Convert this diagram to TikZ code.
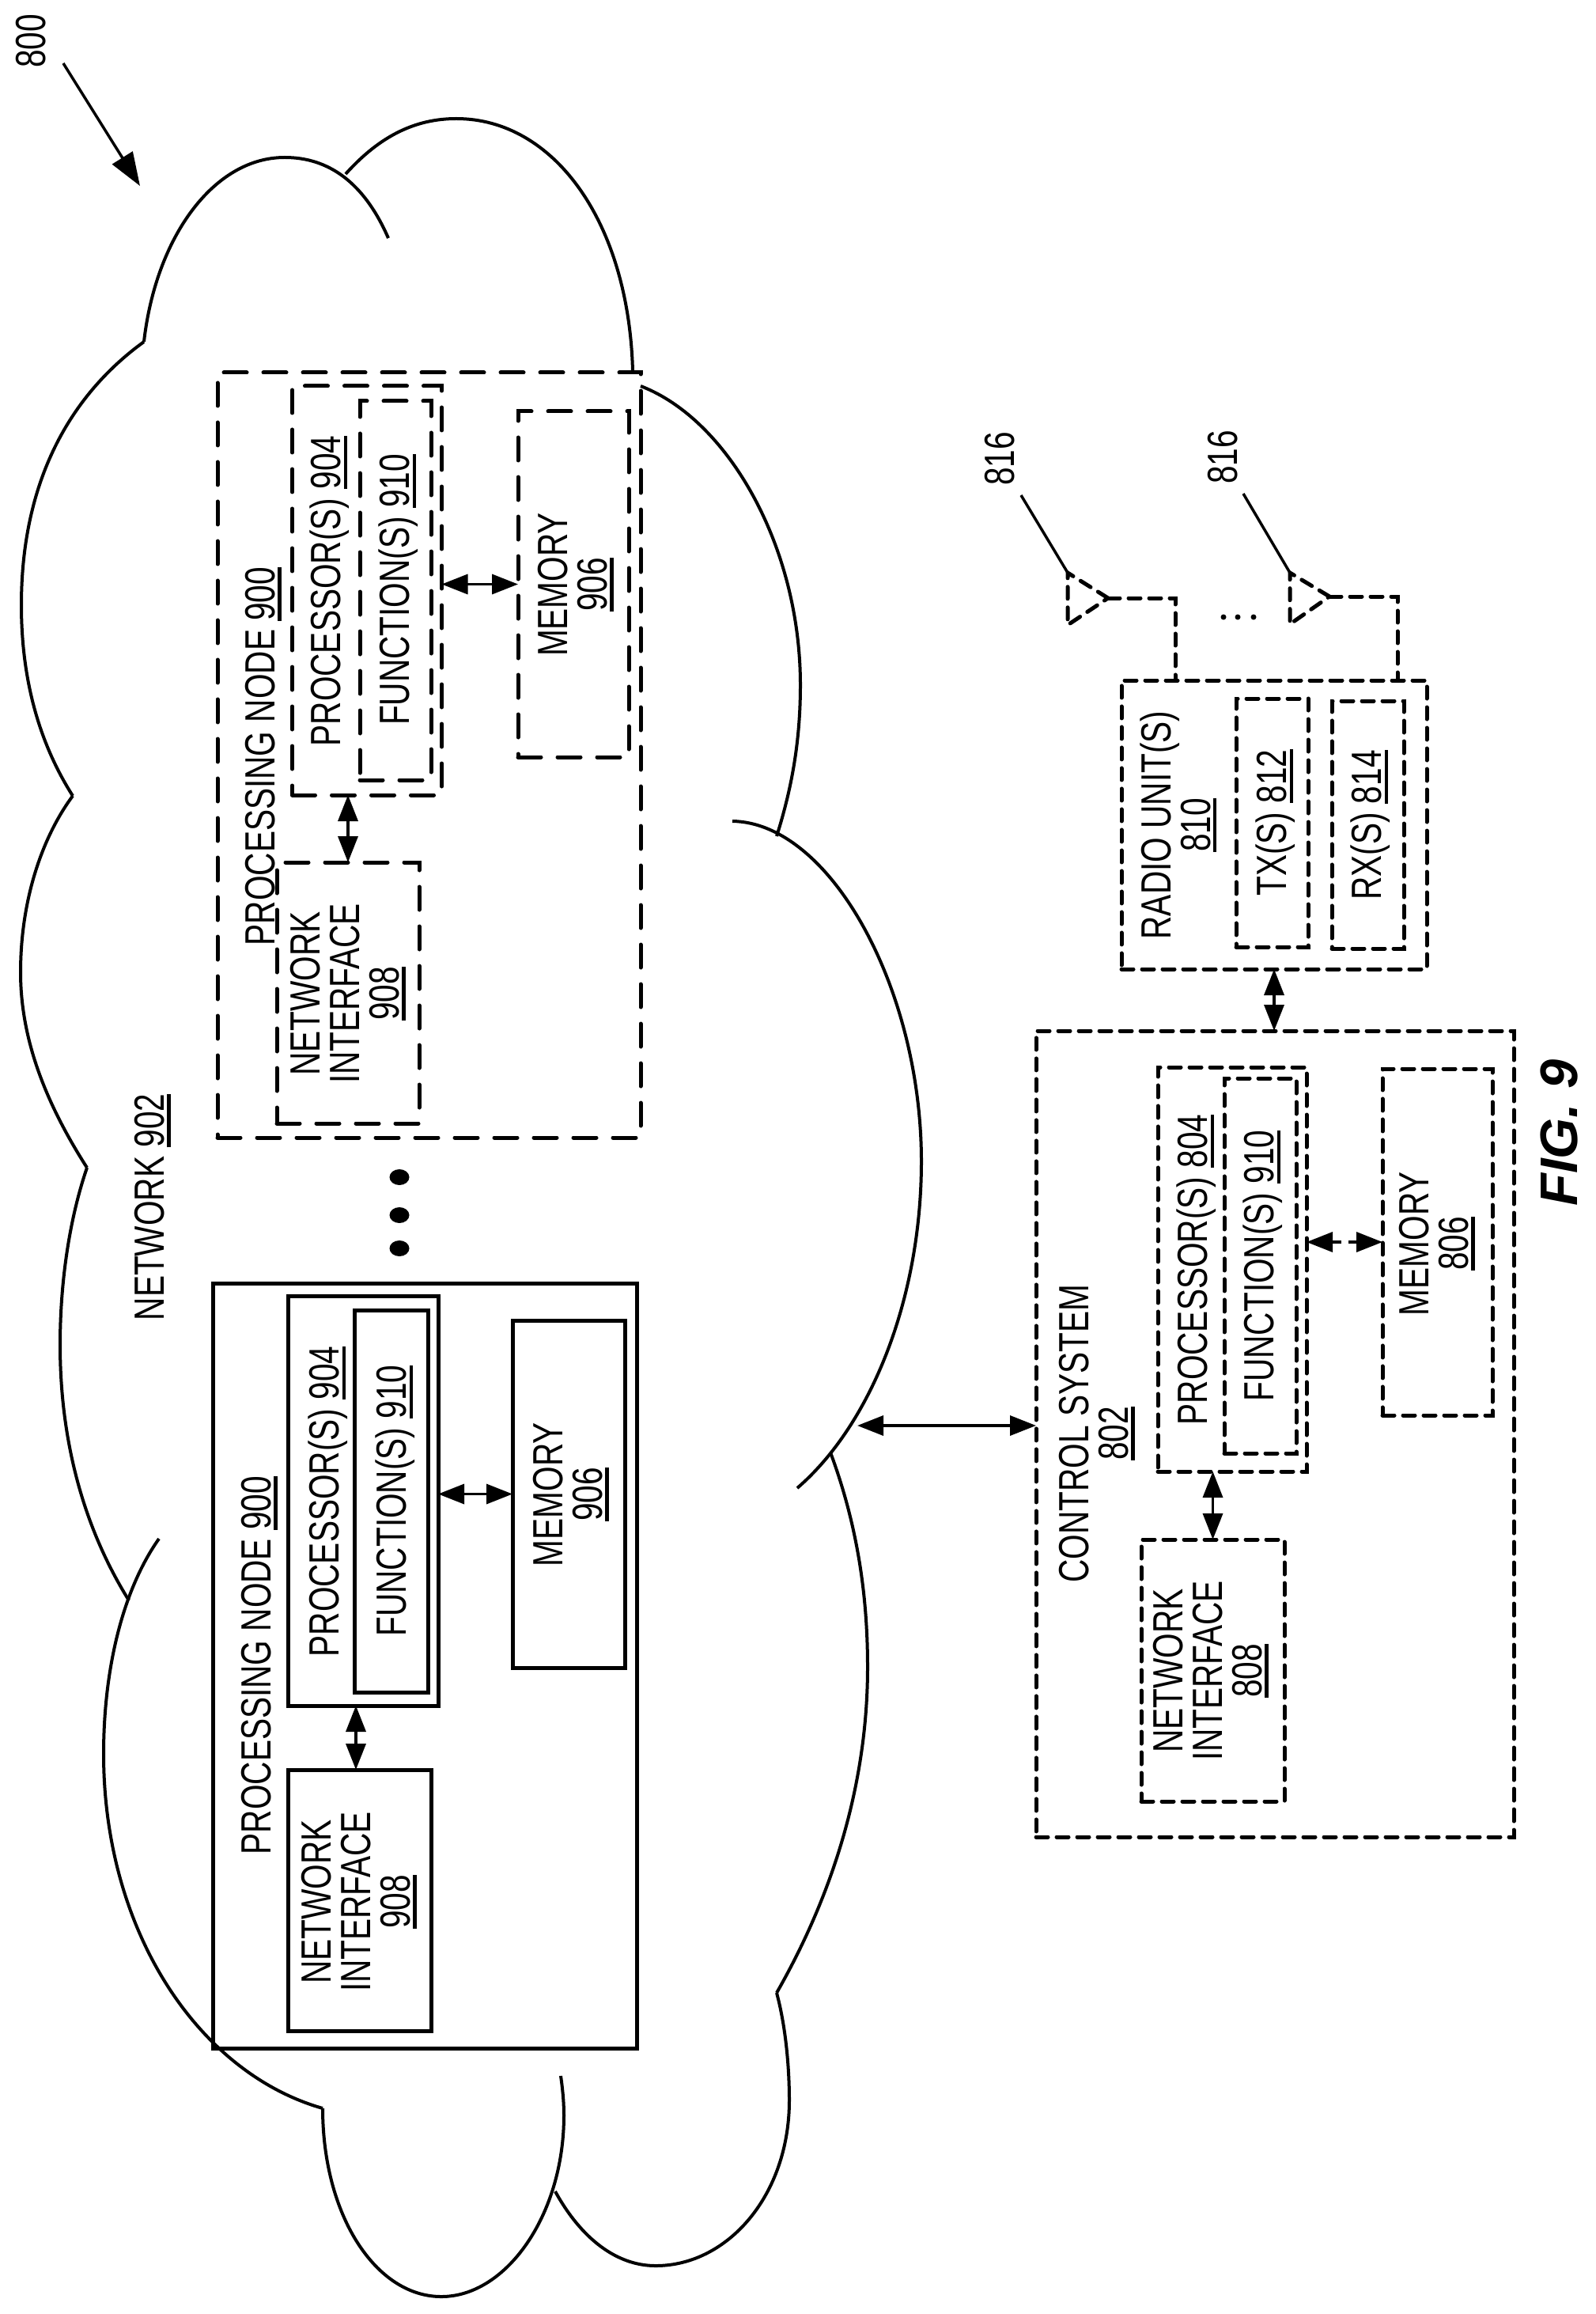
\documentclass[tikz,border=0pt]{standalone}
\usepackage{fontspec}
\setmainfont{Liberation Sans}[FakeStretch=0.76]
\newfontfamily\figfont{Liberation Sans}
\newcommand{\unum}[1]{\leavevmode\vtop{\hbox{#1}\kern.9pt\hrule height 1.2pt}}
\usepackage{tikz}
\usetikzlibrary{arrows.meta, shapes.geometric, positioning}

\begin{document}
\begin{tikzpicture}[y=-1cm,
	cloudline/.style={line width=.04cm},
	solidbox/.style={draw, line width=.05cm, inner sep=0pt, outer sep=0pt},
	longbox/.style={solidbox, line cap=round, dash pattern=on .29cm off .21cm},
	shortbox/.style={solidbox, line cap=round, dash pattern=on .15cm off .11cm},
	lbl/.style={rotate=90, align=center, inner sep=0pt, font=\fontsize{15.2}{14.2}\selectfont},
	dbl/.style={line width=.035cm, {Triangle[length=.33cm,width=.25cm]}-{Triangle[length=.33cm,width=.25cm]}},
	bigdot/.style={ellipse, fill, inner sep=0pt, minimum width=.25cm, minimum height=.20cm},
	tinydot/.style={circle, fill, inner sep=0pt, minimum size=.07cm}]
	\useasboundingbox (0,0) rectangle (20.17,29.25);

	\draw[cloudline] (4.91,3.01) .. controls (4.6,2.3) and (4.15,1.99) .. (3.60,1.99) .. controls (2.7,1.99) and (1.97,3.0) .. (1.82,4.32);
	\draw[cloudline] (4.37,2.20) .. controls (4.8,1.72) and (5.25,1.50) .. (5.77,1.50) .. controls (7.0,1.50) and (7.95,2.8) .. (8.00,4.69);
	\draw[cloudline] (8.10,4.88) .. controls (9.2,5.3) and (10.12,6.9) .. (10.12,8.66) .. controls (10.12,9.4) and (10.0,10.0) .. (9.82,10.57);
	\draw[cloudline] (9.26,10.38) .. controls (10.5,10.4) and (11.65,12.5) .. (11.65,14.68) .. controls (11.65,16.4) and (11.02,18.0) .. (10.08,18.81);
	\draw[cloudline] (10.50,18.36) .. controls (10.85,19.3) and (10.97,20.2) .. (10.97,21.07) .. controls (10.97,22.6) and (10.5,24.0) .. (9.82,25.19);
	\draw[cloudline] (9.82,25.19) .. controls (9.93,25.6) and (9.98,26.1) .. (9.98,26.55) .. controls (9.98,27.75) and (9.2,28.64) .. (8.29,28.64) .. controls (7.8,28.64) and (7.35,28.3) .. (7.02,27.70);
	\draw[cloudline] (7.09,26.24) .. controls (7.12,26.45) and (7.13,26.6) .. (7.13,26.74) .. controls (7.13,28.0) and (6.4,29.03) .. (5.58,29.03) .. controls (4.75,29.03) and (4.08,28.0) .. (4.08,26.65);
	\draw[cloudline] (4.08,26.65) .. controls (2.5,26.2) and (1.31,24.4) .. (1.31,22.17) .. controls (1.31,21.1) and (1.55,20.1) .. (2.01,19.45);
	\draw[cloudline] (1.63,20.23) .. controls (1.05,19.3) and (.76,18.2) .. (.76,17.00) .. controls (.76,16.2) and (.88,15.4) .. (1.10,14.76);
	\draw[cloudline] (1.10,14.76) .. controls (.55,13.9) and (.26,13.1) .. (.26,12.29) .. controls (.26,11.4) and (.52,10.6) .. (.92,10.06);
	\draw[cloudline] (.92,10.06) .. controls (.5,9.4) and (.27,8.6) .. (.27,7.65) .. controls (.27,6.0) and (.95,4.95) .. (1.82,4.32);

	\node[lbl] (net) at (1.93,15.26) {NETWORK \unum{902}};
	\node[lbl] (t800) at (.39,.52) {800};
	\coordinate (a800) at (.80,.80);
	\coordinate (b800) at (1.77,2.35);
	\draw[line width=.035cm, -{Triangle[length=.42cm,width=.30cm]}] (a800) -- (b800);

	\node[longbox, minimum width=5.35cm, minimum height=9.67cm] (pn2) at (5.425,9.545) {};
	\node[longbox, minimum width=1.89cm, minimum height=5.17cm] (proc2) at (4.64,7.465) {};
	\node[longbox, minimum width=.90cm, minimum height=4.79cm] (func2) at (5.00,7.465) {};
	\node[longbox, minimum width=1.40cm, minimum height=4.37cm] (mem2) at (7.25,7.385) {};
	\node[longbox, minimum width=1.80cm, minimum height=3.30cm] (ni2) at (4.40,12.55) {};
	\node[lbl] (pn2t) at (3.33,9.56) {PROCESSING NODE \unum{900}};
	\node[lbl] (proc2t) at (4.17,7.47) {PROCESSOR(S) \unum{904}};
	\node[lbl] (func2t) at (5.04,7.455) {FUNCTION(S) \unum{910}};
	\node[lbl] (mem2t) at (7.28,7.39) {MEMORY\\\unum{906}};
	\node[lbl] (ni2t) at (4.40,12.56) {NETWORK\\INTERFACE\\\unum{908}};

	\foreach \i/\y in {1/14.88, 2/15.36, 3/15.78}
		\node[bigdot] (dot\i) at (5.05,\y) {};

	\node[solidbox, minimum width=5.36cm, minimum height=9.67cm] (pn1) at (5.37,21.055) {};
	\node[solidbox, minimum width=1.90cm, minimum height=5.18cm] (proc1) at (4.59,18.97) {};
	\node[solidbox, minimum width=.93cm, minimum height=4.83cm] (func1) at (4.945,18.975) {};
	\node[solidbox, minimum width=1.42cm, minimum height=4.39cm] (mem1) at (7.19,18.885) {};
	\node[solidbox, minimum width=1.81cm, minimum height=3.30cm] (ni1) at (4.545,24.02) {};
	\node[lbl] (pn1t) at (3.28,21.05) {PROCESSING NODE \unum{900}};
	\node[lbl] (proc1t) at (4.15,18.98) {PROCESSOR(S) \unum{904}};
	\node[lbl] (func1t) at (5.00,18.97) {FUNCTION(S) \unum{910}};
	\node[lbl] (mem1t) at (7.22,18.89) {MEMORY\\\unum{906}};
	\node[lbl] (ni1t) at (4.54,24.04) {NETWORK\\INTERFACE\\\unum{908}};

	\node[shortbox, minimum width=3.86cm, minimum height=3.65cm] (radio) at (16.11,10.425) {};
	\node[shortbox, minimum width=.91cm, minimum height=3.14cm] (tx) at (16.085,10.40) {};
	\node[shortbox, minimum width=.91cm, minimum height=3.13cm] (rx) at (17.295,10.425) {};
	\node[lbl] (radiot) at (14.90,10.43) {RADIO UNIT(S)\\\unum{810}};
	\node[lbl] (txt) at (16.13,10.40) {TX(S) \unum{812}};
	\node[lbl] (rxt) at (17.33,10.43) {RX(S) \unum{814}};

	\node[shortbox, minimum width=6.04cm, minimum height=10.19cm] (cs) at (16.12,18.125) {};
	\node[shortbox, minimum width=1.88cm, minimum height=5.11cm] (proc3) at (15.58,16.045) {};
	\node[shortbox, minimum width=.91cm, minimum height=4.74cm] (func3) at (15.935,16.00) {};
	\node[shortbox, minimum width=1.39cm, minimum height=4.38cm] (mem3) at (18.175,15.70) {};
	\node[shortbox, minimum width=1.81cm, minimum height=3.31cm] (ni3) at (15.335,21.115) {};
	\node[lbl] (cst) at (13.87,18.12) {CONTROL SYSTEM\\\unum{802}};
	\node[lbl] (proc3t) at (15.13,16.05) {PROCESSOR(S) \unum{804}};
	\node[lbl] (func3t) at (15.97,16.00) {FUNCTION(S) \unum{910}};
	\node[lbl] (mem3t) at (18.17,15.72) {MEMORY\\\unum{806}};
	\node[lbl] (ni3t) at (15.31,21.12) {NETWORK\\INTERFACE\\\unum{808}};

	\node[lbl, font=\figfont\fontsize{19}{19}\selectfont\bfseries\itshape] (fig) at (19.71,14.32) {FIG. 9};

	\coordinate (ant1a) at (13.50,7.24);
	\coordinate (ant1b) at (13.50,7.90);
	\coordinate (ant1c) at (14.01,7.56);
	\coordinate (lead1) at (14.86,8.60);
	\coordinate (ant2a) at (16.31,7.24);
	\coordinate (ant2b) at (16.31,7.89);
	\coordinate (ant2c) at (16.81,7.54);
	\coordinate (lead2) at (17.67,8.60);
	\draw[shortbox] (ant1c) -- (ant1a) -- (ant1b) -- cycle;
	\draw[shortbox] (ant2c) -- (ant2a) -- (ant2b) -- cycle;
	\draw[shortbox] (ant1c) -| (lead1);
	\draw[shortbox] (ant2c) -| (lead2);

	\node[lbl] (t816a) at (12.64,5.80) {816};
	\node[lbl] (t816b) at (15.46,5.78) {816};
	\coordinate (p816a) at (12.91,6.26);
	\coordinate (p816b) at (15.72,6.24);
	\draw[line width=.035cm] (p816a) -- (ant1a);
	\draw[line width=.035cm] (p816b) -- (ant2a);

	\foreach \i/\x in {1/15.47, 2/15.65, 3/15.85}
		\node[tinydot] (ell\i) at (\x,7.80) {};

	\coordinate (netedge) at (10.84,18.02);
	\path[dbl] (proc2.east |- mem2) edge (mem2.west)
			  (ni2.north) edge (ni2.north |- proc2.south)
			  (proc1.east |- mem1) edge (mem1.west)
			  ([xshift=-.45mm]ni1.north) edge ([xshift=-.45mm]ni1.north |- proc1.south)
			  (radio.south) edge (radio.south |- cs.north)
			  (netedge) edge (cs.west |- netedge)
			  (ni3.north) edge (ni3.north |- proc3.south);
	\path[dbl, dash pattern=on .12cm off .09cm] (proc3.east |- mem3) edge (mem3.west);
\end{tikzpicture}
\end{document}
